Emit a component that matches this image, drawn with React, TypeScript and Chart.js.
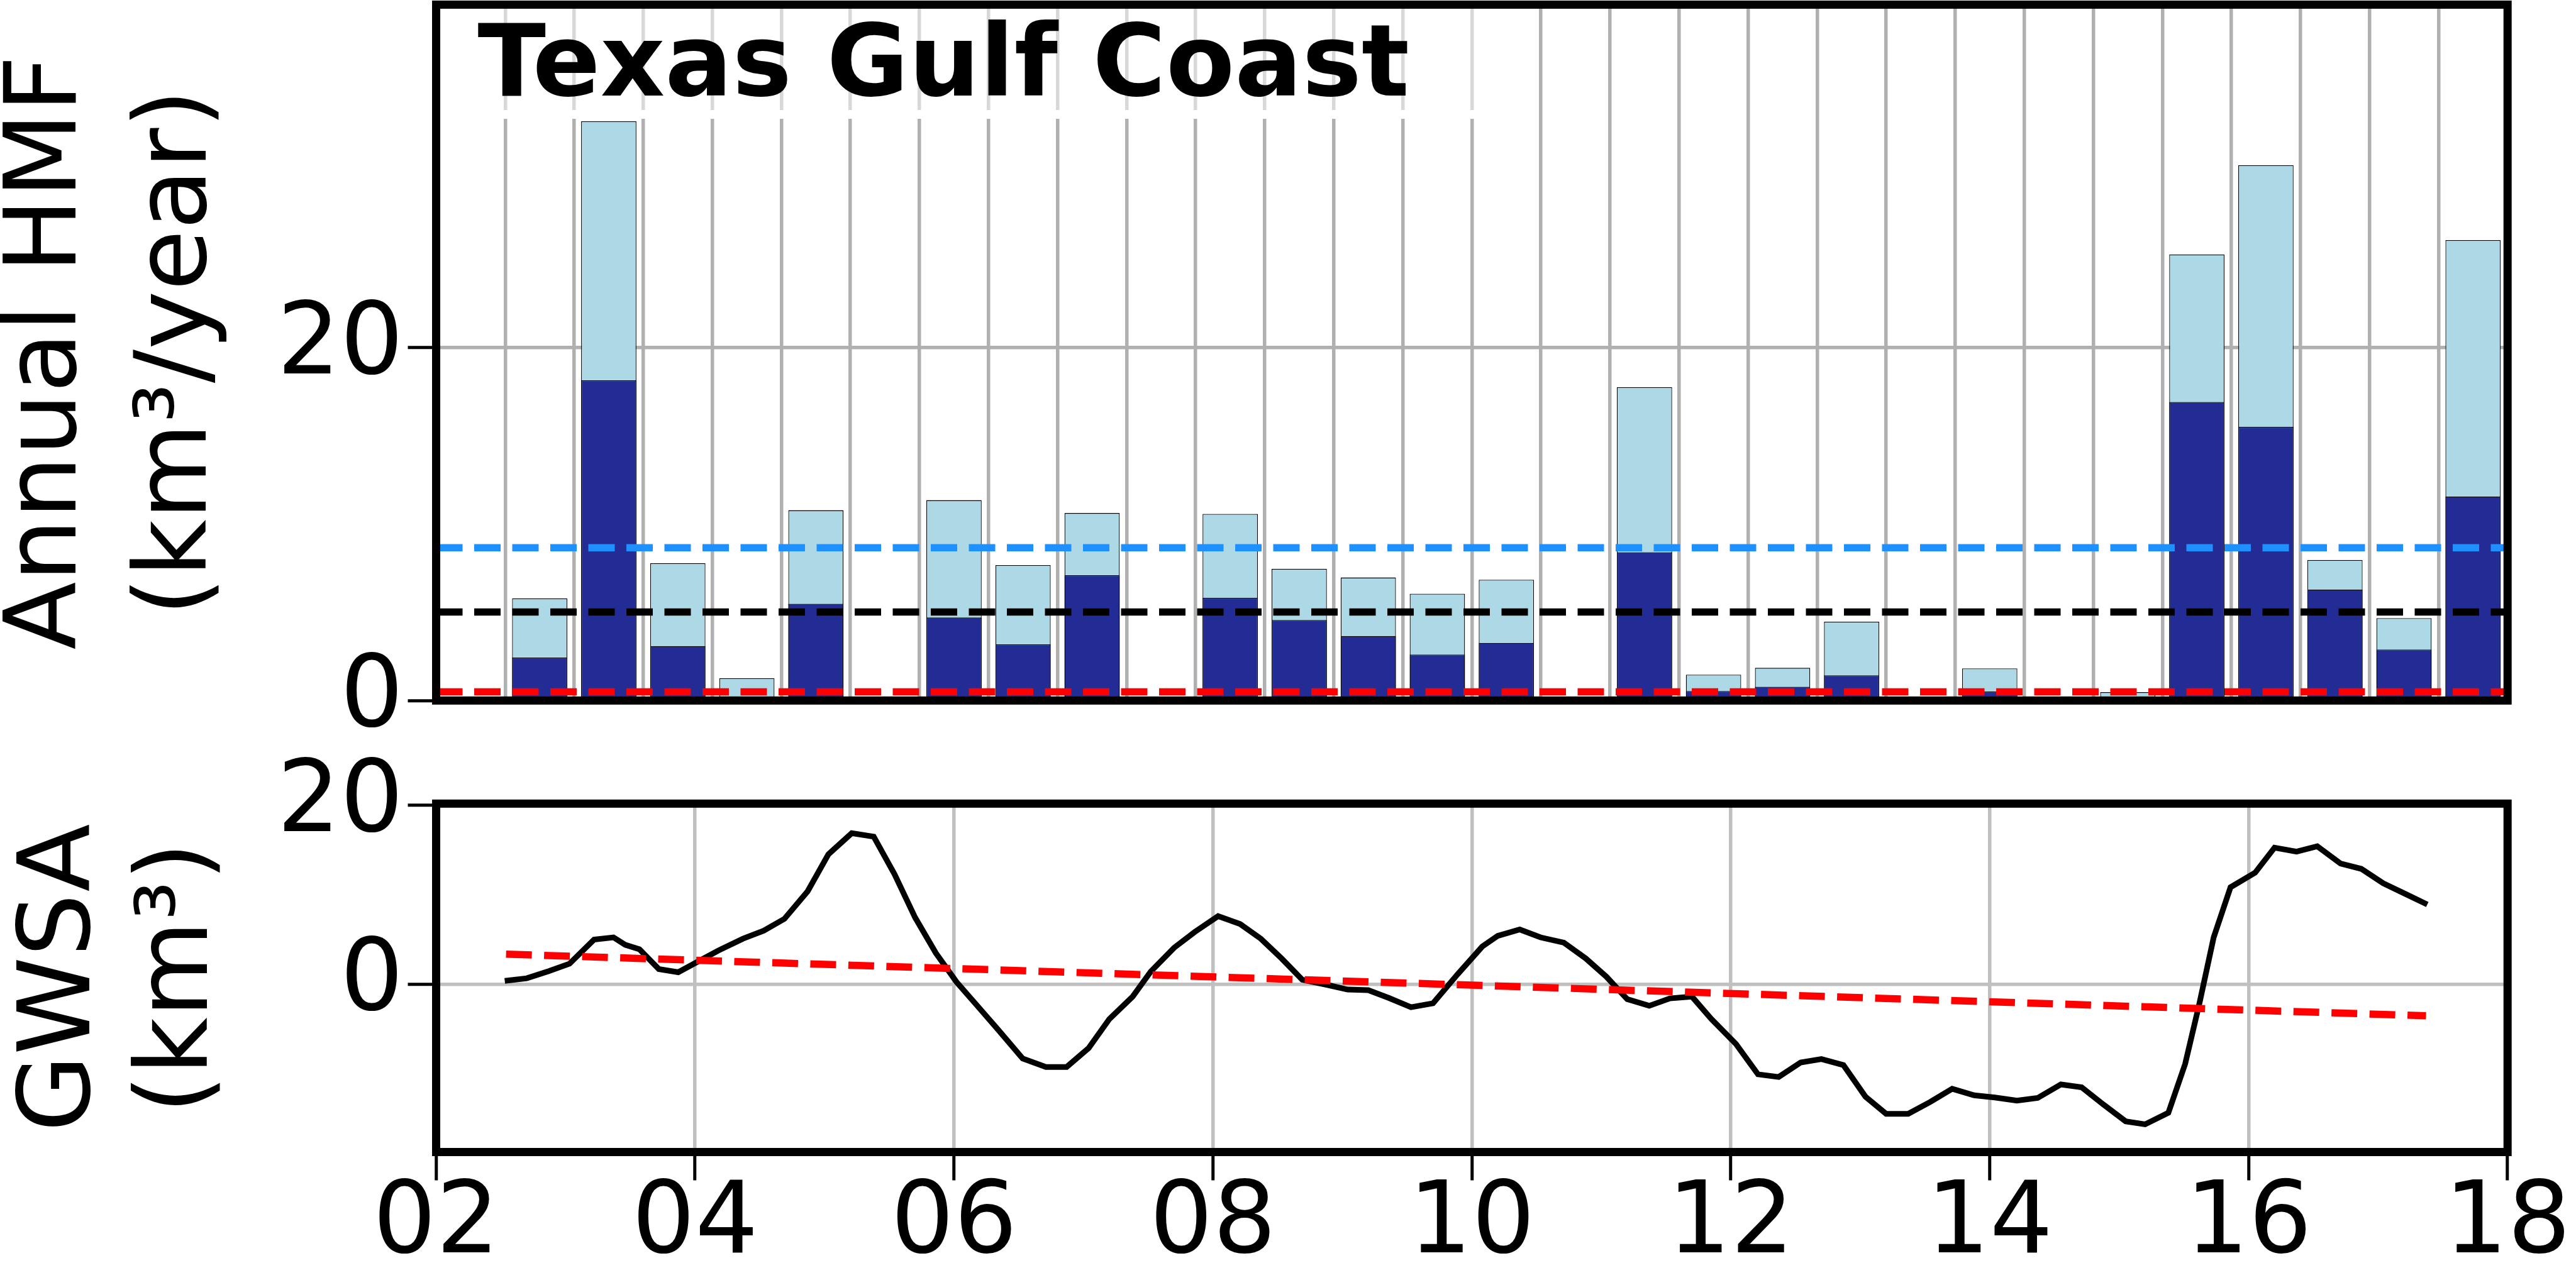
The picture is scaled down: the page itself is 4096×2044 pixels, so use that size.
import React, { useEffect, useRef } from 'react';
import { Chart, registerables } from 'chart.js';

Chart.register(...registerables);

const FONT = "'DejaVu Sans', 'Liberation Sans', sans-serif";

// ---------- Top panel: annual HMF (30 periods) ----------
const periods = [
  '0', '1', '2', '3', '4', '5', '6', '7', '8', '9',
  '10', '11', '12', '13', '14', '15', '16', '17', '18', '19',
  '20', '21', '22', '23', '24', '25', '26', '27', '28', '29',
];
const totalHMF = [
  null, 5.79, 32.81, 7.78, 1.27, 10.78, null, 11.35, 7.67, 10.62,
  null, 10.57, 7.46, 6.97, 6.05, 6.84, null, 17.75, 1.46, 1.85,
  4.46, null, 1.82, null, 0.47, 25.27, 30.33, 7.96, 4.67, 26.08,
];
const partHMF = [
  null, 2.43, 18.14, 3.08, null, 5.48, null, 4.7, 3.18, 7.1,
  null, 5.82, 4.56, 3.65, 2.6, 3.26, null, 8.4, 0.54, 0.78,
  1.43, null, 0.51, null, null, 16.91, 15.5, 6.29, 2.89, 11.56,
];
const levelBlue = 8.66;
const levelBlack = 5.01;
const levelRed = 0.49;
const hmfYTicks = [0, 20];
const hmfYMax = 39.42;

// ---------- Bottom panel: GWSA ----------
const gwsaYears = [
  2002.53, 2002.7, 2002.87, 2003.03, 2003.22, 2003.37, 2003.46, 2003.57, 2003.72, 2003.87,
  2004.02, 2004.18, 2004.37, 2004.53, 2004.69, 2004.87, 2005.03, 2005.21, 2005.38, 2005.54,
  2005.7, 2005.86, 2006.02, 2006.18, 2006.34, 2006.53, 2006.71, 2006.87, 2007.04, 2007.2,
  2007.38, 2007.52, 2007.7, 2007.86, 2008.04, 2008.21, 2008.37, 2008.53, 2008.69, 2008.88,
  2009.04, 2009.2, 2009.36, 2009.53, 2009.7, 2009.89, 2010.08, 2010.2, 2010.37, 2010.53,
  2010.71, 2010.88, 2011.04, 2011.2, 2011.37, 2011.53, 2011.7, 2011.85, 2012.04, 2012.21,
  2012.37, 2012.54, 2012.7, 2012.87, 2013.04, 2013.2, 2013.37, 2013.54, 2013.71, 2013.88,
  2014.04, 2014.21, 2014.37, 2014.55, 2014.71, 2014.88, 2015.05, 2015.2, 2015.38, 2015.51,
  2015.62, 2015.73, 2015.86, 2016.05, 2016.2, 2016.37, 2016.53, 2016.71, 2016.87, 2017.04,
  2017.21, 2017.38,
];
const gwsaValues = [
  0.36, 0.65, 1.45, 2.28, 4.99, 5.23, 4.4, 3.9, 1.68, 1.33,
  2.51, 3.76, 5.08, 5.97, 7.3, 10.4, 14.53, 16.89, 16.51, 12.32,
  7.44, 3.47, 0.22, -2.43, -5.09, -8.33, -9.28, -9.28, -7.16, -3.91,
  -1.4, 1.4, 4.07, 5.84, 7.61, 6.73, 5.08, 2.87, 0.49, -0.08,
  -0.61, -0.68, -1.56, -2.59, -2.15, 1.1, 4.2, 5.4, 6.11, 5.23,
  4.64, 2.87, 0.81, -1.69, -2.43, -1.6, -1.4, -3.91, -6.71, -10.1,
  -10.4, -8.78, -8.39, -9.07, -12.6, -14.53, -14.53, -13.2, -11.72, -12.45,
  -12.69, -13.05, -12.75, -11.23, -11.55, -13.5, -15.36, -15.7, -14.4, -8.92,
  -2.15, 5.23, 10.84, 12.47, 15.27, 14.83, 15.42, 13.5, 12.9, 11.28,
  10.1, 8.91,
];
const trendYears = [2002.54, 2017.37];
const trendValues = [3.35, -3.55];
const xTickYears = [2002, 2004, 2006, 2008, 2010, 2012, 2014, 2016, 2018];
const xTickLabels = ['02', '04', '06', '08', '10', '12', '14', '16', '18'];
const gwsaYTicks = [0, 20];
const gwsaYMin = -18.8;
const gwsaYMax = 20.2;

// ---------- layout (window px) ----------
const W = 4096;
const H = 2044;
const AREA_LEFT = 693.5;
const AREA_RIGHT = 3987.2;
const TOP_TOP = 7.4;
const TOP_BOTTOM = 1114.3;
const BOT_TOP = 1278.3;
const BOT_BOTTOM = 1832.5;
const FS = 158;

const framePlugin = {
  id: 'frame',
  afterDraw(chart: any) {
    const { ctx, chartArea: a } = chart;
    ctx.save();
    ctx.strokeStyle = '#000';
    ctx.lineWidth = 13;
    ctx.lineJoin = 'miter';
    ctx.strokeRect(a.left, a.top, a.right - a.left, a.bottom - a.top);
    ctx.restore();
  },
};

const titlePlugin = {
  id: 'panelTitle',
  beforeDatasetsDraw(chart: any) {
    const { ctx, chartArea: a } = chart;
    ctx.save();
    ctx.fillStyle = 'rgba(255,255,255,0.5)';
    ctx.fillRect(a.left, a.top - 20, 2381 - a.left, 175 - (a.top - 20));
    ctx.strokeStyle = '#ffffff';
    ctx.lineWidth = 14;
    ctx.beginPath();
    ctx.moveTo(a.left, 182);
    ctx.lineTo(2381, 182);
    ctx.stroke();
    ctx.restore();
  },
  afterDraw(chart: any) {
    const { ctx, chartArea: a } = chart;
    ctx.save();
    ctx.fillStyle = '#000';
    ctx.font = `bold 159px ${FONT}`;
    ctx.textBaseline = 'alphabetic';
    ctx.textAlign = 'left';
    ctx.fillText('Texas Gulf Coast', a.left + 66, a.top + 144.5);
    ctx.restore();
  },
};

const tickFont = { family: FONT, size: FS, lineHeight: 1 };

function levelLine(value: number, color: string) {
  return {
    type: 'line' as const,
    xAxisID: 'xh',
    yAxisID: 'y',
    data: [
      { x: 0, y: value },
      { x: 1, y: value },
    ],
    borderColor: color,
    borderWidth: 11.5,
    borderDash: [42, 18.5],
    borderCapStyle: 'butt',
    pointRadius: 0,
    fill: false,
    order: -1,
  };
}

export default function App() {
  const topRef = useRef<HTMLCanvasElement>(null);
  const botRef = useRef<HTMLCanvasElement>(null);

  useEffect(() => {
    const top = new Chart(topRef.current as HTMLCanvasElement, {
      type: 'bar',
      data: {
        labels: periods,
        datasets: [
          {
            label: 'part',
            data: partHMF,
            backgroundColor: '#232c94',
            borderColor: '#000000',
            borderWidth: 1.3,
            grouped: false,
            barPercentage: 0.8,
            categoryPercentage: 1.0,
            xAxisID: 'x',
            yAxisID: 'y',
          },
          {
            label: 'total',
            data: totalHMF,
            backgroundColor: '#add8e6',
            borderColor: '#000000',
            borderWidth: 1.3,
            grouped: false,
            barPercentage: 0.8,
            categoryPercentage: 1.0,
            xAxisID: 'x',
            yAxisID: 'y',
          },
          levelLine(levelBlue, '#1e90ff'),
          levelLine(levelBlack, '#000000'),
          levelLine(levelRed, '#ff0000'),
        ] as any,
      },
      options: {
        responsive: false,
        animation: false,
        devicePixelRatio: 1,
        events: [],
        layout: { padding: { left: 0, right: W - AREA_RIGHT, top: TOP_TOP, bottom: H - TOP_BOTTOM } },
        plugins: { legend: { display: false }, tooltip: { enabled: false }, title: { display: false } },
        scales: {
          x: {
            type: 'category',
            offset: true,
            grid: { offset: true, color: '#b0b0b0', lineWidth: 5.5, drawTicks: false },
            border: { display: false },
            ticks: { display: false },
            afterFit: (s: any) => {
              s.height = 0;
              s.paddingLeft = 0;
              s.paddingRight = 0;
            },
          },
          xh: {
            type: 'linear',
            min: 0,
            max: 1,
            offset: false,
            display: false,
            grid: { offset: false },
            afterFit: (s: any) => {
              s.height = 0;
              s.paddingLeft = 0;
              s.paddingRight = 0;
            },
          },
          y: {
            type: 'linear',
            min: 0,
            max: hmfYMax,
            afterBuildTicks: (s: any) => {
              s.ticks = hmfYTicks.map((v) => ({ value: v }));
            },
            afterFit: (s: any) => {
              s.width = AREA_LEFT;
              s.paddingTop = 0;
              s.paddingBottom = 0;
            },
            grid: { color: '#b0b0b0', lineWidth: 5.5, drawTicks: true, tickLength: 45, tickWidth: 5, tickColor: '#000' },
            border: { display: false },
            ticks: { font: tickFont, color: '#000', padding: 7 },
            title: {
              display: true,
              text: ['Annual HMF', '(km³/year)'],
              color: '#000',
              font: { family: FONT, size: FS, lineHeight: 1.315 },
              padding: { top: -25.4, bottom: 0 },
            },
          },
        },
      } as any,
      plugins: [titlePlugin, framePlugin],
    });

    const bottom = new Chart(botRef.current as HTMLCanvasElement, {
      type: 'line',
      data: {
        datasets: [
          {
            label: 'trend',
            data: trendYears.map((x, i) => ({ x, y: trendValues[i] })),
            borderColor: '#ff0000',
            borderWidth: 11.5,
            borderDash: [41, 19.5],
            borderCapStyle: 'butt',
            pointRadius: 0,
            fill: false,
          },
          {
            label: 'GWSA',
            data: gwsaYears.map((x, i) => ({ x, y: gwsaValues[i] })),
            borderColor: '#000000',
            borderWidth: 9,
            pointRadius: 0,
            tension: 0,
            fill: false,
          },
        ] as any,
      },
      options: {
        responsive: false,
        animation: false,
        devicePixelRatio: 1,
        events: [],
        layout: { padding: { left: 0, right: W - AREA_RIGHT, top: BOT_TOP, bottom: 0 } },
        plugins: { legend: { display: false }, tooltip: { enabled: false }, title: { display: false } },
        scales: {
          x: {
            type: 'linear',
            min: xTickYears[0],
            max: xTickYears[xTickYears.length - 1],
            afterBuildTicks: (s: any) => {
              s.ticks = xTickYears.map((v) => ({ value: v }));
            },
            afterFit: (s: any) => {
              s.height = H - BOT_BOTTOM;
              s.paddingLeft = 0;
              s.paddingRight = 0;
            },
            grid: { color: '#c0c0c0', lineWidth: 5.5, drawTicks: true, tickLength: 45, tickWidth: 5, tickColor: '#000' },
            border: { display: false },
            ticks: {
              font: tickFont,
              color: '#000',
              padding: -6,
              maxRotation: 0,
              autoSkip: false,
              callback: (_v: any, i: number) => xTickLabels[i],
            },
          },
          y: {
            type: 'linear',
            min: gwsaYMin,
            max: gwsaYMax,
            afterBuildTicks: (s: any) => {
              s.ticks = gwsaYTicks.map((v) => ({ value: v }));
            },
            afterFit: (s: any) => {
              s.width = AREA_LEFT;
              s.paddingTop = 0;
              s.paddingBottom = 0;
            },
            grid: { color: '#c0c0c0', lineWidth: 5.5, drawTicks: true, tickLength: 45, tickWidth: 5, tickColor: '#000' },
            border: { display: false },
            ticks: { font: tickFont, color: '#000', padding: 7 },
            title: {
              display: true,
              text: ['GWSA', '(km³)'],
              color: '#000',
              font: { family: FONT, size: FS, lineHeight: 1.187 },
              padding: { top: 6.9, bottom: 0 },
            },
          },
        },
      } as any,
      plugins: [framePlugin],
    });

    return () => {
      top.destroy();
      bottom.destroy();
    };
  }, []);

  const canvasStyle: React.CSSProperties = {
    position: 'absolute',
    left: 0,
    top: 0,
    width: `${W}px`,
    height: `${H}px`,
  };

  return (
    <div style={{ position: 'fixed', left: 0, top: 0, width: W, height: H, background: '#ffffff', overflow: 'hidden' }}>
      <canvas ref={topRef} width={W} height={H} style={canvasStyle} />
      <canvas ref={botRef} width={W} height={H} style={canvasStyle} />
    </div>
  );
}
